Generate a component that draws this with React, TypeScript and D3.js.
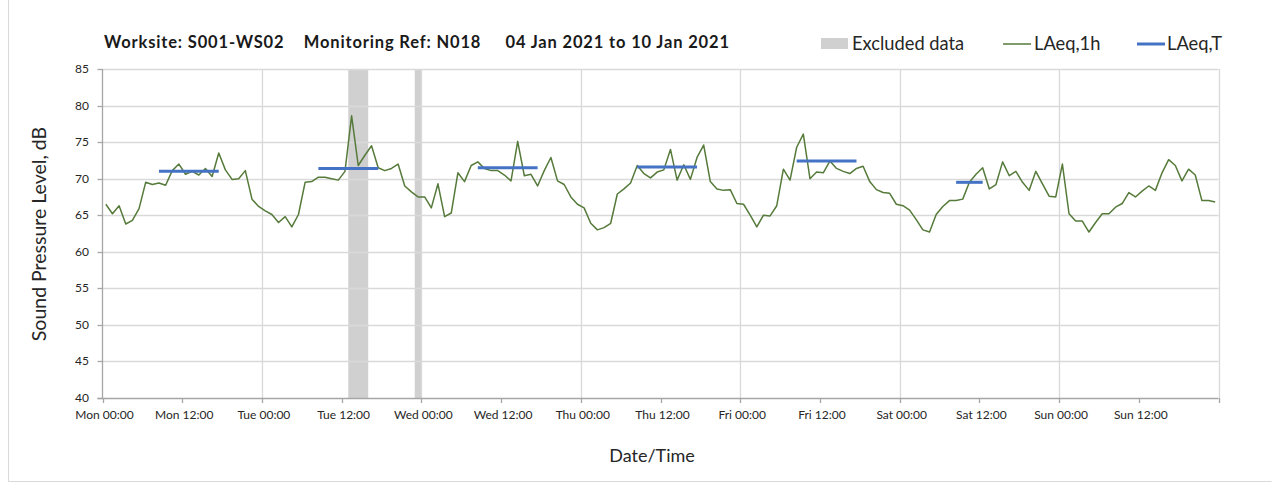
import React from "react";
import * as d3 from "d3";

const TITLE = "Worksite: S001-WS02    Monitoring Ref: N018     04 Jan 2021 to 10 Jan 2021";
const dayNames = ["Mon", "Tue", "Wed", "Thu", "Fri", "Sat", "Sun"];
const yTicks = [40, 45, 50, 55, 60, 65, 70, 75, 80, 85];

// Hourly LAeq,1h values, Mon 00:00 .. Sun 23:00 (168 hours)
const laeq1h = [
  66.5, 65.2, 66.3, 63.8, 64.3, 65.9, 69.5, 69.2, 69.4, 69.1, 71.1, 72.0,
  70.6, 71.0, 70.5, 71.4, 70.3, 73.5, 71.2, 69.9, 70.0, 71.1, 67.2, 66.2,
  65.6, 65.1, 64.0, 64.8, 63.4, 65.1, 69.5, 69.6, 70.2, 70.2, 70.0, 69.8,
  71.0, 78.6, 71.8, 73.2, 74.5, 71.5, 71.1, 71.4, 72.0, 69.0, 68.2, 67.5,
  67.5, 66.0, 69.3, 64.8, 65.3, 70.8, 69.6, 71.8, 72.3, 71.4, 71.1, 71.1,
  70.5, 69.7, 75.1, 70.4, 70.6, 69.0, 71.1, 72.9, 69.7, 69.2, 67.5, 66.5,
  66.0, 63.9, 63.0, 63.3, 63.9, 67.9, 68.6, 69.4, 71.8, 70.7, 70.1, 70.9,
  71.2, 74.0, 69.8, 71.9, 69.9, 72.9, 74.6, 69.6, 68.6, 68.4, 68.5, 66.6,
  66.5, 65.0, 63.4, 65.0, 64.9, 66.3, 71.3, 69.8, 74.3, 76.1, 70.0, 70.9,
  70.8, 72.4, 71.4, 71.0, 70.7, 71.4, 71.7, 69.6, 68.5, 68.1, 68.0, 66.5,
  66.3, 65.7, 64.4, 63.0, 62.7, 65.1, 66.2, 67.0, 67.0, 67.2, 69.5, 70.6,
  71.5, 68.6, 69.2, 72.3, 70.4, 71.0, 69.5, 68.4, 71.0, 69.3, 67.6, 67.5,
  72.0, 65.2, 64.2, 64.2, 62.7, 64.0, 65.2, 65.2, 66.1, 66.6, 68.1, 67.5,
  68.3, 69.0, 68.4, 70.8, 72.6, 71.8, 69.7, 71.3, 70.5, 67.0, 67.0, 66.8,
];

// LAeq,T daytime periods (hour index of first and last hourly value)
const periodStart = [8, 32, 56, 80, 104, 128];
const periodEnd = [17, 41, 65, 89, 113, 132];
const periodValue = [71.0, 71.4, 71.5, 71.6, 72.4, 69.5];

// Excluded data (hour ranges)
const excludedStart = [37, 47];
const excludedEnd = [40, 48];

const W = 1279;
const H = 486;
const FONT = "Lato, 'Open Sans', sans-serif";

export default function App() {
  const x = d3.scaleLinear().domain([0, 168]).range([102.5, 1218.5]);
  const y = d3.scaleLinear().domain([40, 85]).range([398, 69]);

  const pts: [number, number][] = laeq1h.map((v, i) => [x(i + 0.5), y(v)]);
  const line = d3.line();
  const path = line(pts) || "";

  const xTickHours = d3.range(0, 168, 12);
  const dayGrid = d3.range(24, 169, 24);
  const xAllTicks = d3.range(0, 169, 12);

  const fmt = (h: number) => {
    const d = dayNames[Math.floor(h / 24)];
    const hh = h % 24;
    return `${d} ${d3.format("02d")(hh)}:00`;
  };

  const gridColor = "#d9d9d9";
  const axisColor = "#a6a6a6";
  const green = "#557a3a";
  const blue = "#4472c4";
  const textColor = "#262626";

  return (
    <svg
      width={W}
      height={H}
      style={{ position: "absolute", left: 0, top: 0, background: "#fff" }}
      fontFamily={FONT}
    >
      {/* chart area border */}
      <line x1={8.5} x2={8.5} y1={0} y2={481.5} stroke={gridColor} />
      <line x1={8.5} x2={1271.5} y1={481.5} y2={481.5} stroke={gridColor} />

      {/* title */}
      <text
        x={104}
        y={48}
        fontSize={16.5}
        fontWeight={700}
        fill="#1a1a1a"
        textLength={625}
        lengthAdjust="spacing"
        style={{ whiteSpace: "pre" }}
      >
        {TITLE}
      </text>

      {/* legend */}
      <rect x={821} y={38} width={27} height={11} fill="#d0d0d0" />
      <text x={852} y={50} fontSize={18.3} fill={textColor}>Excluded data</text>
      <line x1={1003} x2={1031} y1={44} y2={44} stroke={green} strokeWidth={1.5} />
      <text x={1034} y={50} fontSize={18.3} fill={textColor}>LAeq,1h</text>
      <line x1={1137} x2={1165} y1={44} y2={44} stroke={blue} strokeWidth={3} />
      <text x={1167} y={50} fontSize={18.3} fill={textColor}>LAeq,T</text>

      {/* excluded bands */}
      {excludedStart.map((s, i) => (
        <rect
          key={"ex" + i}
          x={x(s)}
          y={y(85)}
          width={x(excludedEnd[i]) - x(s)}
          height={y(40) - y(85)}
          fill="#d0d0d0"
        />
      ))}

      {/* horizontal gridlines */}
      {yTicks.filter((t) => t > 40).map((t) => (
        <line key={"hg" + t} x1={x(0)} x2={x(168)} y1={Math.round(y(t)) + 0.5} y2={Math.round(y(t)) + 0.5} stroke={gridColor} strokeWidth={1.3} />
      ))}
      {/* vertical day gridlines */}
      {dayGrid.map((h) => (
        <line key={"vg" + h} x1={Math.round(x(h)) + 0.5} x2={Math.round(x(h)) + 0.5} y1={y(85)} y2={y(40)} stroke={gridColor} strokeWidth={1.3} />
      ))}

      {/* axes */}
      <line x1={x(0)} x2={x(0)} y1={y(85)} y2={y(40)} stroke={axisColor} strokeWidth={1.3} />
      <line x1={x(0) - 5} x2={x(168)} y1={Math.round(y(40)) + 0.5} y2={Math.round(y(40)) + 0.5} stroke={axisColor} strokeWidth={1.3} />
      {yTicks.map((t) => (
        <g key={"yt" + t}>
          <line x1={x(0) - 5} x2={x(0)} y1={Math.round(y(t)) + 0.5} y2={Math.round(y(t)) + 0.5} stroke={axisColor} strokeWidth={1.3} />
          <text x={89} y={y(t) + 4} fontSize={12} textAnchor="end" fill={textColor}>{t}</text>
        </g>
      ))}
      {xAllTicks.map((h) => (
        <line key={"xt" + h} x1={Math.round(x(h)) + 0.5} x2={Math.round(x(h)) + 0.5} y1={y(40)} y2={y(40) + 5} stroke={axisColor} strokeWidth={1.3} />
      ))}
      {xTickHours.map((h) => (
        <text key={"xl" + h} x={x(h) + 2} y={419} fontSize={12} textAnchor="middle" fill={textColor}>
          {fmt(h)}
        </text>
      ))}

      {/* LAeq,1h line */}
      <path d={path} fill="none" stroke={green} strokeWidth={1.5} strokeLinejoin="round" />

      {/* LAeq,T periods */}
      {periodStart.map((s, i) => (
        <line
          key={"p" + i}
          x1={x(s + 0.5)}
          x2={x(periodEnd[i] + 0.5)}
          y1={y(periodValue[i])}
          y2={y(periodValue[i])}
          stroke={blue}
          strokeWidth={3}
        />
      ))}

      {/* axis titles */}
      <text x={652} y={462} fontSize={18} textAnchor="middle" fill={textColor}>Date/Time</text>
      <text
        transform={`translate(46,234) rotate(-90)`}
        fontSize={19.5}
        textAnchor="middle"
        fill={textColor}
      >
        Sound Pressure Level, dB
      </text>
    </svg>
  );
}
